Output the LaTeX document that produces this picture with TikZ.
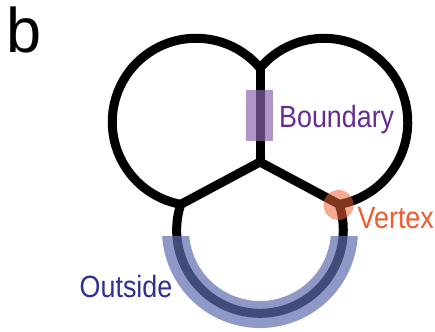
\documentclass[tikz,border=0pt]{standalone}
\usepackage{fontspec}
\setmainfont{Liberation Sans}
\definecolor{bndcol}{RGB}{138,100,173}
\definecolor{bndtext}{RGB}{102,45,145}
\definecolor{vtxcol}{RGB}{236,100,60}
\definecolor{vtxtext}{RGB}{241,90,41}
\definecolor{outcol}{RGB}{95,109,176}
\definecolor{outtext}{RGB}{46,49,146}
\newcommand\cond[1]{\scalebox{0.875}[1]{#1}}
\begin{document}
\begin{tikzpicture}[x=1pt,y=1pt,
  wall/.style={line width=9pt, line cap=round, line join=round, draw=black},
  lbl/.style={inner sep=0pt, anchor=base west, font=\fontsize{30.7}{36}\selectfont},
  bndbox/.style={fill=bndcol, fill opacity=0.68, draw=none, minimum width=27pt, minimum height=51pt, inner sep=0pt},
  vtxdot/.style={circle, fill=vtxcol, fill opacity=0.55, draw=none, minimum size=30pt, inner sep=0pt},
  outband/.style={line width=27pt, draw=outcol, draw opacity=0.7}]
\useasboundingbox (0,0) rectangle (435,331);
\coordinate (Lc) at (196,209);
\coordinate (Rc) at (324,209);
\coordinate (Bc) at (260,101);
\coordinate (O) at (260,169);
\coordinate (T) at (260,263);
\coordinate (L) at (180.7,126.6);
\coordinate (R) at (339.3,126.6);
% cell outlines
\draw[wall] (T) arc[start angle=40.16, end angle=259.48, radius=83.74];
\draw[wall] (L) arc[start angle=162.11, end angle=377.89, radius=83.3];
\draw[wall] (R) arc[start angle=-79.48, end angle=139.84, radius=83.74];
\draw[wall] (O) -- (T);
\draw[wall] (O) -- (L);
\draw[wall] (O) -- (R);
% outside band
\begin{scope}
  \clip (0,0) rectangle (435,94);
  \draw[outband] (Bc) ++(160:84.5) arc[start angle=160, end angle=380, radius=84.5];
\end{scope}
% boundary highlight
\node[bndbox] (bnd) at (259.5,215.5) {};
% vertex highlight
\node[vtxdot] (vtx) at (338.5,126) {};
% labels
\node[lbl, text=bndtext] (tb) at (279,203) {\cond{Boundary}};
\node[lbl, text=vtxtext] (tv) at (357.5,102) {\cond{Vertex}};
\node[lbl, text=outtext] (to) at (79.5,33) {\cond{Outside}};
\node[inner sep=0pt, anchor=base west, font=\fontsize{63}{70}\selectfont] (b) at (6,278) {b};
\end{tikzpicture}
\end{document}
